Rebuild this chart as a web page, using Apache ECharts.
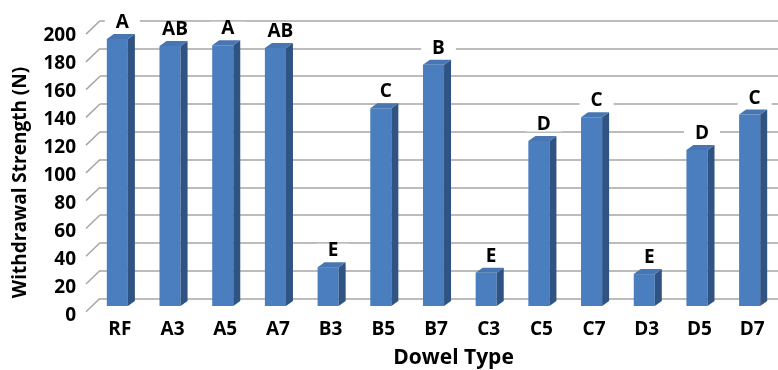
<!DOCTYPE html>
<html>
<head>
<meta charset="utf-8">
<script src="https://cdn.jsdelivr.net/npm/echarts@6/dist/echarts.min.js"></script>
<style>
  html, body { margin: 0; padding: 0; background: #ffffff; }
  #chart { width: 778px; height: 370px; }
</style>
</head>
<body>
<div id="chart"></div>
<script>
// Withdrawal strength (N) per dowel type, with significance-group letters
const dowelTypes = ['RF', 'A3', 'A5', 'A7', 'B3', 'B5', 'B7', 'C3', 'C5', 'C7', 'D3', 'D5', 'D7'];
const withdrawalStrength = [192.5, 187.5, 188, 186, 28, 142.5, 174, 24, 119, 136, 23, 112.5, 138];
const groupLetters = ['A', 'AB', 'A', 'AB', 'E', 'C', 'B', 'E', 'D', 'C', 'E', 'D', 'C'];
const yTicks = [0, 20, 40, 60, 80, 100, 120, 140, 160, 180, 200];

const FONT = '"Open Sans", "Liberation Sans", sans-serif';
const FRONT = '#4a7ebe';
const SIDE = '#2f5383';
const TOP = '#4776b2';
const GRID_LINE = '#a6a6a6';

// pseudo-3D depth of a column and of the side wall
const BAR_DX = 7, BAR_DY = 5;
const WALL_DX = 14, WALL_DY = 13.4;

const chart = echarts.init(document.getElementById('chart'), null, { renderer: 'canvas' });

function renderColumn(params, api) {
  const i = api.value(0);
  const v = api.value(1);
  const top = api.coord([i, v]);
  const base = api.coord([i, 0]);
  const w = api.size([1, 0])[0] * 0.4;
  const x0 = top[0] - w / 2;
  const x1 = top[0] + w / 2;
  return {
    type: 'group',
    children: [
      { type: 'rect', shape: { x: x0, y: top[1], width: w, height: base[1] - top[1] }, style: { fill: FRONT } },
      { type: 'polygon', shape: { points: [[x1, top[1]], [x1 + BAR_DX, top[1] - BAR_DY], [x1 + BAR_DX, base[1] - BAR_DY], [x1, base[1]]] }, style: { fill: SIDE } },
      { type: 'polygon', shape: { points: [[x0, top[1]], [x0 + BAR_DX, top[1] - BAR_DY], [x1 + BAR_DX, top[1] - BAR_DY], [x1, top[1]]] }, style: { fill: TOP } },
      {
        type: 'text', x: top[0] + 5, y: top[1] - BAR_DY - 11.5, z2: 10,
        style: {
          text: groupLetters[i], fill: '#000', fontSize: 19, fontWeight: 'bold', fontFamily: FONT,
          lineHeight: 14, align: 'center', verticalAlign: 'middle',
          backgroundColor: '#ffffff', padding: [0, 11]
        }
      }
    ]
  };
}

// short diagonals joining the value labels to the back-wall gridlines
function renderWallTick(params, api) {
  const p = api.coord([0, api.value(0)]);
  return {
    type: 'line',
    shape: { x1: p[0] - WALL_DX, y1: p[1] + WALL_DY, x2: p[0], y2: p[1] },
    style: { stroke: GRID_LINE, lineWidth: 1.5 }
  };
}

const option = {
  backgroundColor: '#ffffff',
  animation: false,
  grid: [
    // front plane holding the columns
    { left: 91, right: 2, top: 28.6, bottom: 64, outerBoundsMode: 'none' },
    // back wall with the gridlines
    { left: 100, right: 0, top: 20.7, bottom: 71.7, outerBoundsMode: 'none' },
    // value labels along the front edge of the side wall
    { left: 100, right: 0, top: 36, bottom: 54, outerBoundsMode: 'none' }
  ],
  xAxis: [
    {
      gridIndex: 0, type: 'category', data: dowelTypes,
      axisLine: { show: false }, axisTick: { show: false }, splitLine: { show: false },
      axisLabel: { margin: 14, fontSize: 19, fontWeight: 'bold', fontFamily: FONT, color: '#000', padding: [0, 0, 0, 5] },
      name: 'Dowel Type', nameLocation: 'middle', nameGap: 42,
      nameTextStyle: { fontSize: 21, fontWeight: 'bold', fontFamily: FONT, color: '#000', padding: [0, 0, 0, 40] }
    },
    { gridIndex: 1, type: 'value', min: 0, max: 1, show: false },
    { gridIndex: 2, type: 'value', min: 0, max: 1, show: false }
  ],
  yAxis: [
    { gridIndex: 0, type: 'value', min: 0, max: 200, interval: 20, show: false },
    {
      gridIndex: 1, type: 'value', min: 0, max: 200, interval: 20,
      axisLine: { show: false }, axisTick: { show: false }, axisLabel: { show: false },
      splitLine: { show: true, lineStyle: { color: GRID_LINE, width: 1.5 } }
    },
    {
      gridIndex: 2, type: 'value', min: 0, max: 200, interval: 20,
      axisLine: { show: false }, axisTick: { show: false }, splitLine: { show: false },
      axisLabel: { margin: 24, fontSize: 19, fontWeight: 'bold', fontFamily: FONT, color: '#000' },
      name: 'Withdrawal Strength (N)', nameLocation: 'middle', nameGap: 70, nameRotate: 90,
      nameTextStyle: { fontSize: 19, fontWeight: 'bold', fontFamily: FONT, color: '#000', padding: [0, 13, 0, 0] }
    }
  ],
  series: [
    {
      type: 'custom', xAxisIndex: 1, yAxisIndex: 1, z: 1, silent: true,
      data: yTicks.map(t => [t]),
      encode: { y: 0 },
      renderItem: renderWallTick
    },
    {
      type: 'custom', xAxisIndex: 0, yAxisIndex: 0, z: 5,
      data: dowelTypes.map((c, i) => [i, withdrawalStrength[i]]),
      encode: { x: 0, y: 1 },
      renderItem: renderColumn
    }
  ]
};

chart.setOption(option);
</script>
</body>
</html>
